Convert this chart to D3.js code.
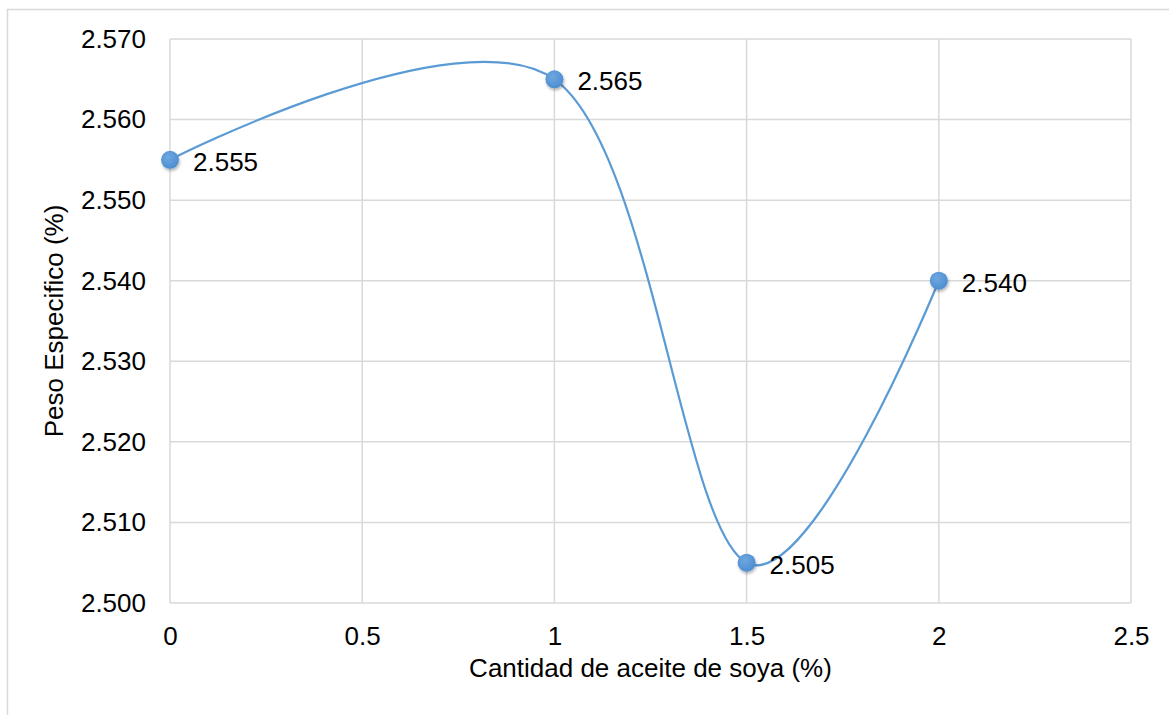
<!DOCTYPE html>
<html>
<head>
<meta charset="utf-8">
<script src="https://cdn.jsdelivr.net/npm/d3@7"></script>
<style>
  body { margin: 0; background: #fff; }
  svg text { font-family: "Liberation Sans", Arial, sans-serif; fill: #000; }
</style>
</head>
<body>
<div id="chart"></div>
<script>
'use strict';

// aceite de soya (%) vs peso especifico
const cantidad = [0, 1, 1.5, 2];
const pesoEspecifico = [2.555, 2.565, 2.505, 2.540];
const xTicks = [0, 0.5, 1, 1.5, 2, 2.5];
const yTicks = [2.500, 2.510, 2.520, 2.530, 2.540, 2.550, 2.560, 2.570];

const width = 1169;
const height = 715;
const margin = { top: 39, right: 38, bottom: 112, left: 170 };

const svg = d3.select("#chart")
  .append("svg")
  .attr("width", width)
  .attr("height", height);

// chart frame
svg.append("rect")
  .attr("x", 7.5)
  .attr("y", 9.5)
  .attr("width", width + 20)
  .attr("height", height + 20)
  .attr("fill", "none")
  .attr("stroke", "#d9d9d9")
  .attr("stroke-width", 1.5);

const x = d3.scaleLinear()
  .domain([0, 2.5])
  .range([margin.left, width - margin.right]);

const y = d3.scaleLinear()
  .domain([2.500, 2.570])
  .range([height - margin.bottom, margin.top]);

const defs = svg.append("defs");
const grad = defs.append("radialGradient")
  .attr("id", "dot")
  .attr("cx", "40%").attr("cy", "35%").attr("r", "70%");
grad.append("stop").attr("offset", "0%").attr("stop-color", "#6fa8e0");
grad.append("stop").attr("offset", "100%").attr("stop-color", "#4a8bd0");

const shadow = defs.append("filter").attr("id", "shadow")
  .attr("x", "-50%").attr("y", "-50%").attr("width", "200%").attr("height", "200%");
shadow.append("feDropShadow")
  .attr("dx", 1).attr("dy", 2).attr("stdDeviation", 1.5)
  .attr("flood-color", "#000").attr("flood-opacity", 0.3);

// gridlines
svg.append("g")
  .selectAll("line")
  .data(yTicks)
  .enter()
  .append("line")
  .attr("x1", x(0)).attr("x2", x(2.5))
  .attr("y1", d => y(d)).attr("y2", d => y(d))
  .attr("stroke", "#d9d9d9")
  .attr("stroke-width", 1.5);

svg.append("g")
  .selectAll("line")
  .data(xTicks)
  .enter()
  .append("line")
  .attr("x1", d => x(d)).attr("x2", d => x(d))
  .attr("y1", y(2.500)).attr("y2", y(2.570))
  .attr("stroke", "#d9d9d9")
  .attr("stroke-width", 1.5);

// axes (labels only)
const xAxis = d3.axisBottom(x).tickValues(xTicks).tickSize(0).tickPadding(24)
  .tickFormat(d => String(d));
const yAxis = d3.axisLeft(y).tickValues(yTicks).tickSize(0).tickPadding(24)
  .tickFormat(d3.format(".3f"));

svg.append("g")
  .attr("transform", `translate(0, ${y(2.500)})`)
  .call(xAxis)
  .call(g => g.select(".domain").remove())
  .selectAll("text")
  .attr("font-size", 26);

svg.append("g")
  .attr("transform", `translate(${x(0)}, 0)`)
  .call(yAxis)
  .call(g => g.select(".domain").remove())
  .selectAll("text")
  .attr("font-size", 26);

svg.selectAll(".tick text").attr("fill", "#000").attr("font-family", "Liberation Sans, Arial, sans-serif");

// axis titles
svg.append("text")
  .attr("x", (x(0) + x(2.5)) / 2)
  .attr("y", 677)
  .attr("text-anchor", "middle")
  .attr("font-size", 26)
  .text("Cantidad de aceite de soya (%)");

svg.append("text")
  .attr("transform", `translate(63, ${(y(2.500) + y(2.570)) / 2}) rotate(-90)`)
  .attr("text-anchor", "middle")
  .attr("font-size", 26)
  .text("Peso Especifico (%)");

const points = cantidad.map((c, i) => ({ x: c, y: pesoEspecifico[i] }));

// smoothed line
const line = d3.line()
  .x(d => x(d.x))
  .y(d => y(d.y))
  .curve(d3.curveCardinal.tension(0));

svg.append("path")
  .datum(points)
  .attr("fill", "none")
  .attr("stroke", "#5b9bd5")
  .attr("stroke-width", 2.2)
  .attr("d", line);

// markers
svg.append("g")
  .selectAll("circle")
  .data(points)
  .enter()
  .append("circle")
  .attr("cx", d => x(d.x))
  .attr("cy", d => y(d.y))
  .attr("r", 9)
  .attr("fill", "url(#dot)")
  .attr("filter", "url(#shadow)");

// data labels
svg.append("g")
  .selectAll("text")
  .data(points)
  .enter()
  .append("text")
  .attr("x", d => x(d.x) + 23)
  .attr("y", d => y(d.y) + 11)
  .attr("font-size", 26)
  .text(d => d3.format(".3f")(d.y));
</script>
</body>
</html>
